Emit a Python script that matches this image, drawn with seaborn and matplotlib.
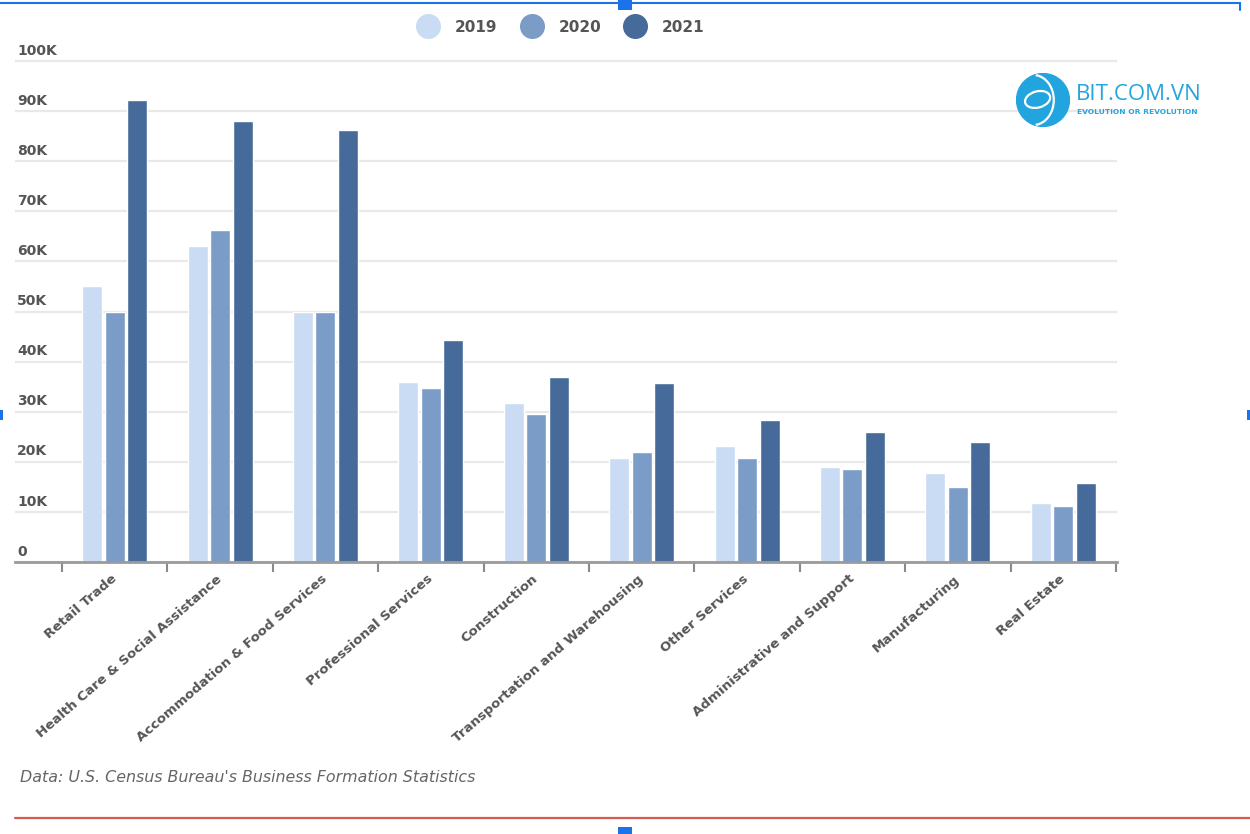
import numpy as np
import pandas as pd
import seaborn as sns
import matplotlib.pyplot as plt
from matplotlib.lines import Line2D
from matplotlib.patches import Circle, Rectangle, Arc, Ellipse

# ---------------- data ----------------
categories = [
    "Retail Trade",
    "Health Care & Social Assistance",
    "Accommodation & Food Services",
    "Professional Services",
    "Construction",
    "Transportation and Warehousing",
    "Other Services",
    "Administrative and Support",
    "Manufacturing",
    "Real Estate",
]
years = ["2019", "2020", "2021"]
values_2019 = [55000, 63000, 50000, 36000, 31800, 20800, 23200, 19000, 17800, 11800]
values_2020 = [50000, 66200, 50000, 34700, 29500, 22000, 20800, 18600, 15000, 11200]
values_2021 = [92200, 88000, 86300, 44300, 36900, 35700, 28300, 25900, 24000, 15800]
colors = ["#c9dcf3", "#7a9cc6", "#466a99"]
ytick_values = [0, 10000, 20000, 30000, 40000, 50000, 60000, 70000, 80000, 90000, 100000]
ytick_labels = ["0", "10K", "20K", "30K", "40K", "50K", "60K", "70K", "80K", "90K", "100K"]
source_text = "Data: U.S. Census Bureau's Business Formation Statistics"

df = pd.DataFrame({
    "Sector": categories * 3,
    "Year": [years[0]] * 10 + [years[1]] * 10 + [years[2]] * 10,
    "Value": values_2019 + values_2020 + values_2021,
})

# ---------------- style ----------------
sns.set_theme(style="white")
plt.rcParams["font.family"] = ["DejaVu Sans"]
TXT = "#555555"

W, H = 1250, 834
fig = plt.figure(figsize=(W / 100, H / 100), dpi=100)

ymax = 101000
ax_left, ax_right = 15, 1117
ax_bottom_px = 562
ax_height_px = (562 - 61) * ymax / 100000
ax = fig.add_axes([ax_left / W, 1 - ax_bottom_px / H, (ax_right - ax_left) / W, ax_height_px / H])

sns.barplot(data=df, x="Sector", y="Value", hue="Year", hue_order=years,
            palette=colors, width=0.64, gap=0.11, saturation=1,
            errorbar=None, legend=False, ax=ax)

ax.set_ylim(0, ymax)
ax.set_xlim(-0.5 - (62 - 15) / 105.4, 9.51)
ax.set_xlabel("")
ax.set_ylabel("")

# gridlines
ax.set_yticks(ytick_values)
ax.set_yticklabels([])
ax.tick_params(axis="y", length=0)
ax.yaxis.grid(True, color="#e9e9e9", lw=1.6)
ax.set_axisbelow(True)

for v, lab in zip(ytick_values, ytick_labels):
    ax.annotate(lab, xy=(0, v), xycoords=("axes fraction", "data"),
                xytext=(1.5, 4.6), textcoords="offset points",
                ha="left", va="baseline", fontsize=10, fontweight="bold",
                color=TXT)

# x ticks
ax.set_xticks(range(len(categories)))
ax.set_xticklabels(categories, rotation=41, ha="right", va="center",
                   rotation_mode="anchor", fontsize=9.6, fontweight="bold",
                   color=TXT)
ax.set_xticks(np.arange(-0.5, len(categories), 1), minor=True)
ax.tick_params(axis="x", which="major", bottom=True, length=0, pad=11)
ax.tick_params(axis="x", which="minor", bottom=True, length=7.5, width=1.5,
               color="#8a8a8a", direction="out")

for s in ["top", "right", "left"]:
    ax.spines[s].set_visible(False)
ax.spines["bottom"].set_color("#9a9a9a")
ax.spines["bottom"].set_linewidth(2)

# legend
handles = [Line2D([], [], marker="o", ls="", markersize=17,
                  markerfacecolor=c, markeredgecolor=c) for c in colors]
fig.legend(handles, years, loc="center", bbox_to_anchor=(561 / W, 1 - 27 / H),
           ncol=3, frameon=False, handlelength=1.4, handletextpad=1.05,
           columnspacing=1.55, prop={"weight": "bold", "size": 11},
           labelcolor=TXT)

# source text
fig.text(20 / W, 1 - 778 / H, source_text, style="italic", fontsize=11.4,
         color="#666666", ha="left", va="center")

# bottom red rule
fig.add_artist(Line2D([15 / W, 1], [1 - 818 / H] * 2, color="#d65a50", lw=1.6))

# blue selection frame artifacts
blue = "#1a73e8"
fig.add_artist(Line2D([0, 1240 / W], [1 - 3 / H] * 2, color=blue, lw=1.5))
fig.add_artist(Line2D([1240 / W] * 2, [1 - 3 / H, 1 - 10 / H], color=blue, lw=1.5))
for (x0, y0, w, h) in [(618, 0, 14, 10), (0, 410, 3, 10), (1247, 410, 3, 10), (618, 827, 14, 7)]:
    fig.add_artist(Rectangle((x0 / W, 1 - (y0 + h) / H), w / W, h / H,
                             facecolor=blue, edgecolor="none"))

# logo
logo_ax = fig.add_axes([(1043 - 27) / W, 1 - 127 / H, 54 / W, 54 / H])
logo_ax.set_xlim(-1, 1)
logo_ax.set_ylim(-1, 1)
logo_ax.set_aspect("equal")
logo_ax.axis("off")
logo_ax.add_patch(Circle((0, 0), 0.98, color="#22a5de"))
logo_ax.add_patch(Arc((-0.35, 0), 1.5, 1.85, theta1=-85, theta2=85, color="white", lw=1.6))
logo_ax.add_patch(Ellipse((-0.2, 0.02), 0.95, 0.6, angle=15, fill=False, edgecolor="white", lw=1.6))

fig.text(1076 / W, 1 - 94 / H, "BIT.COM.VN", fontsize=16, color="#26a4de",
         family=["Open Sans", "DejaVu Sans"], fontweight="normal",
         ha="left", va="center")
fig.text(1077 / W, 1 - 112 / H, "EVOLUTION OR REVOLUTION", fontsize=5.4,
         color="#26a4de", fontweight="bold", ha="left", va="center")

fig.savefig("out.png", dpi=100)
